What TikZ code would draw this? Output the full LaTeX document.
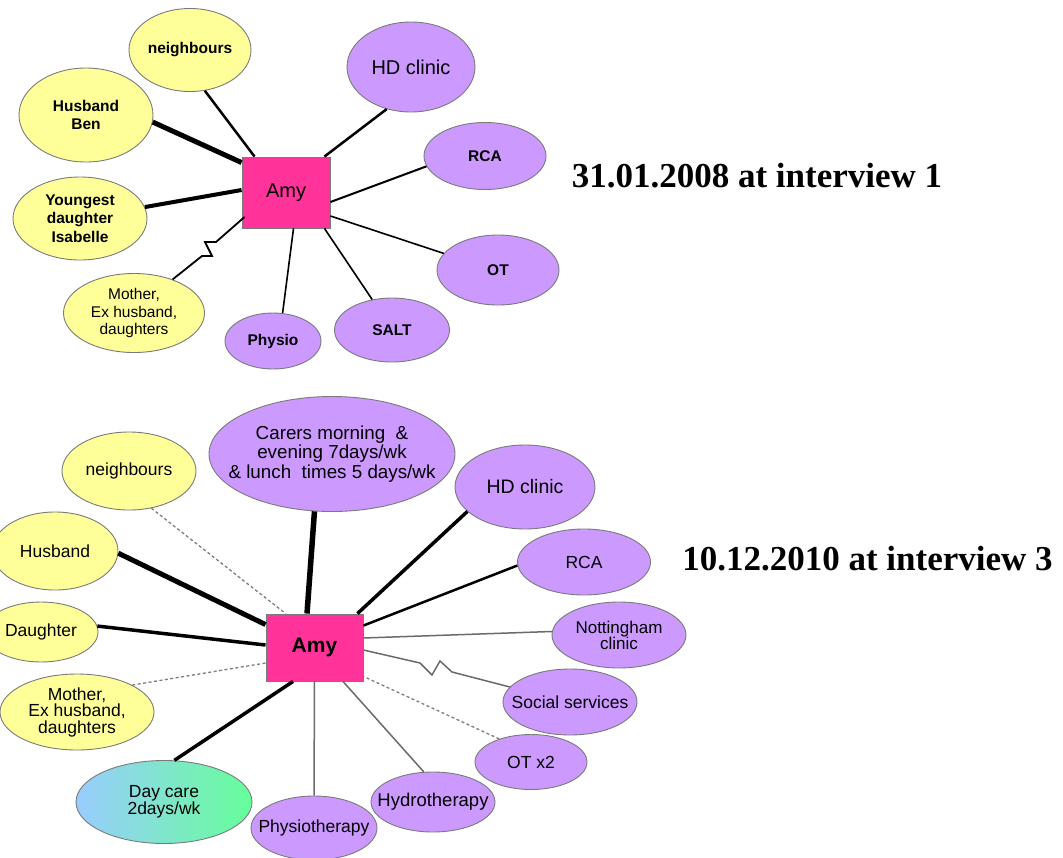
\documentclass[tikz,border=0pt]{standalone}
\usepackage{fontspec}
\setmainfont{Liberation Sans}
\newfontfamily\datefont{Liberation Serif}
\usetikzlibrary{shapes.geometric}

\definecolor{yel}{HTML}{FFFF99}
\definecolor{lil}{HTML}{CC99FF}
\definecolor{hubpink}{HTML}{FF3399}
\definecolor{edge}{HTML}{7A7A7A}
\definecolor{thinline}{HTML}{6A6A6A}
\definecolor{dashline}{HTML}{7C7C7C}
\definecolor{dcblue}{HTML}{99CCFF}
\definecolor{dcgreen}{HTML}{66FF99}

\begin{document}
\begin{tikzpicture}[x=1pt,y=-1pt,
  bub/.style args={#1/#2}{ellipse, draw=edge, line width=0.9pt,
    minimum width=#1, minimum height=#2, inner sep=0pt},
  fam/.style={bub=#1, fill=yel},
  svc/.style={bub=#1, fill=lil},
  hub/.style={rectangle, draw=edge, fill=hubpink, line width=0.9pt, inner sep=0pt},
  tb/.style={align=center, inner sep=0pt, font=\bfseries\fontsize{15.5}{18.5}\selectfont},
  tr/.style={align=center, inner sep=0pt, font=\fontsize{15.5}{17.5}\selectfont},
  br/.style={align=center, inner sep=0pt, font=\fontsize{17.5}{19}\selectfont},
  datestyle/.style={anchor=base, inner sep=0pt, font=\datefont\bfseries\fontsize{35}{40}\selectfont},
  tie/.style={line width=#1, black},
  weak/.style={line width=1.5pt, thinline},
  loose/.style={line width=1.3pt, dashline, dash pattern=on 3pt off 2.5pt},
]
\useasboundingbox (0,0) rectangle (1063,857);

% ---------- 31.01.2008 ----------
\node[hub, minimum width=88, minimum height=71, font=\fontsize{20}{24}\selectfont] (a1) at (286,192.5) {Amy};
\node[fam=122/83, label={[tb]center:neighbours}] (nb1) at (190,50) {};
\node[fam=134/94, label={[tb]center:{Husband\\Ben}}] (hb1) at (86,115) {};
\node[fam=134/83, label={[tb]center:{Youngest\\daughter\\Isabelle}}] (yd1) at (80,218.5) {};
\node[fam=141/79, label={[tr]center:{Mother,\\Ex husband,\\daughters}}] (mo1) at (134,313) {};
\node[svc=128/90, label={[align=center, inner sep=0pt, font=\fontsize{20}{24}\selectfont]center:HD clinic}] (hd1) at (411,67) {};
\node[svc=122/67, label={[tb]center:RCA}] (rca1) at (485,156) {};
\node[svc=122/70, label={[tb]center:OT}] (ot1) at (498,270) {};
\node[svc=115/64, label={[tb]center:SALT}] (salt1) at (392,330) {};
\node[svc=96/56, label={[tb]center:Physio}] (ph1) at (273,341) {};
\node[datestyle] (d1) at (757,187.5) {31.01.2008 at interview 1};

\draw[tie=2.5pt] (nb1.-70) -- ([xshift=13pt]a1.north west);
\draw[tie=5pt] (hb1.-6) -- ([yshift=-6pt]a1.north west);
\draw[tie=4pt] (yd1.10) -- ([yshift=2.5pt]a1.west);
\draw[tie=1.8pt] (mo1.41) -- (202,256) -- (212,256) -- (205,242) -- (216,242)
  -- ([xshift=3pt,yshift=-24.5pt]a1.west);
\draw[tie=2.5pt] (hd1.240) -- ([xshift=-6pt]a1.north east);
\draw[tie=2pt] (rca1.190) -- ([yshift=-9.5pt]a1.east);
\draw[tie=1.6pt] (ot1.163) -- ([yshift=-23.5pt]a1.east);
\draw[tie=1.6pt] (salt1.123) -- ([xshift=-6pt]a1.south east);
\draw[tie=1.6pt] (ph1.71) -- ([xshift=7.5pt]a1.south);

% ---------- 10.12.2010 ----------
\node[hub, minimum width=97, minimum height=67, font=\bfseries\fontsize{21}{24}\selectfont] (a2) at (314.5,647.5) {Amy};
\node[svc=246/115, label={[align=center, inner sep=0pt, font=\fontsize{18.8}{19.5}\selectfont]center:{Carers morning\ \ \&\\evening 7days/wk\\\& lunch\ \ times 5 days/wk}}] (ca2) at (332,454) {};
\node[fam=134/78, label={[br]center:neighbours}] (nb2) at (129,471) {};
\node[fam=126/78, label={[br]center:Husband}] (hb2) at (55,551) {};
\node[fam=114/60, label={[br]center:Daughter}] (dt2) at (41,632) {};
\node[fam=154/76, label={[align=center, inner sep=0pt, font=\fontsize{17.5}{16.5}\selectfont]center:{Mother,\\Ex husband,\\daughters}}] (mo2) at (77,712) {};
\node[svc=140/84, label={[align=center, inner sep=0pt, font=\fontsize{19.5}{22}\selectfont]center:HD\ clinic}] (hd2) at (525,487) {};
\node[svc=133/66, label={[br]center:RCA}] (rca2) at (584,562) {};
\node[svc=134/66, label={[align=center, inner sep=0pt, font=\fontsize{17}{16}\selectfont]center:{Nottingham\\clinic}}] (nc2) at (619,635) {};
\node[svc=134/66, label={[br]center:Social services}] (ss2) at (570,702) {};
\node[svc=112/55, label={[br]center:OT x2}] (ot2) at (531,762) {};
\node[svc=124/60, label={[align=center, inner sep=0pt, font=\fontsize{18.5}{19}\selectfont]center:Hydrotherapy}] (hy2) at (433,802) {};
\node[svc=126/64, label={[br]center:Physiotherapy}] (py2) at (314,828) {};
\node[bub=176/83, left color=dcblue, right color=dcgreen,
  label={[align=center, inner sep=0pt, font=\fontsize{17.5}{16}\selectfont]center:{Day care\\2days/wk}}] (dc2) at (164,802) {};
\node[datestyle] (d2) at (867.5,570) {10.12.2010 at interview 3};

\draw[tie=5.5pt] (ca2.253) -- ([xshift=-7.5pt]a2.north);
\draw[loose] (nb2.-59) -- ([xshift=20pt]a2.north west);
\draw[tie=5pt] (hb2.-2) -- ([yshift=-11pt]a2.north west);
\draw[tie=3.5pt] (dt2.6) -- ([yshift=2.5pt]a2.west);
\draw[loose] (mo2.26) -- ([yshift=-15.5pt]a2.west);
\draw[tie=3.5pt] (hd2.203.7) -- ([xshift=-6pt]a2.north east);
\draw[tie=2.5pt] (rca2.183) -- ([yshift=-12pt]a2.north east);
\draw[weak] (nc2.177) -- ([yshift=9.5pt]a2.east);
\draw[weak] ([yshift=-2.5pt]a2.east) -- (420,663) -- (432,675) -- (440,661) -- (452,672) -- (ss2.166);
\draw[loose] (ot2.144) -- ([yshift=5pt]a2.south east);
\draw[tie=3.5pt] (dc2.76) -- ([xshift=-21.5pt]a2.south);
\draw[weak] (py2.north) -- (a2.south);
\draw[weak] (hy2.107) -- ([xshift=28.5pt]a2.south);
\end{tikzpicture}
\end{document}
